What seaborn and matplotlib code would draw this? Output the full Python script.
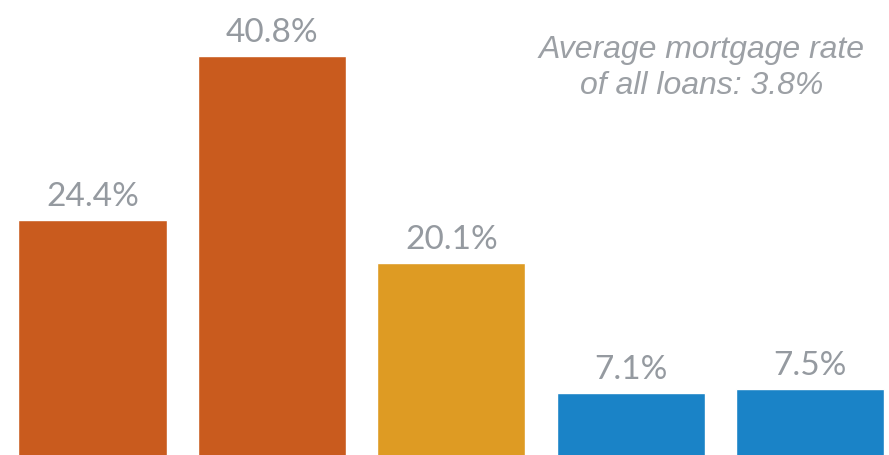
import matplotlib
matplotlib.use("Agg")
import matplotlib.pyplot as plt
import pandas as pd
import seaborn as sns

# values
groups = ["g1", "g2", "g3", "g4", "g5"]
shares = [24.4, 40.8, 20.1, 7.1, 7.5]
barColors = ["#C95B1E", "#C95B1E", "#DE9B23", "#1A83C7", "#1A83C7"]
note = "Average mortgage rate\nof all loans: 3.8%"

df = pd.DataFrame({"group": groups, "share": shares})

sns.set_theme(style="white")
fig = plt.figure(figsize=(8.89, 4.55), dpi=100)
ax = fig.add_axes([0, 0, 1, 1])

sns.barplot(data=df, x="group", y="share", hue="group", palette=barColors,
            legend=False, width=0.826, saturation=1, ax=ax)

for p, v in zip(ax.patches, shares):
    ax.text(p.get_x() + p.get_width() / 2, v + 1.4, f"{v:.1f}%",
            ha="center", va="baseline", fontsize=24, color="#959AA0",
            family=["Lato", "DejaVu Sans"])

ax.text(3.395, 39.6, note, ha="center", va="center", fontsize=23,
        style="italic", color="#9CA0A5", linespacing=1.28,
        family=["Liberation Sans", "DejaVu Sans"])

ax.set_xlim(-0.516, 4.44)
ax.set_ylim(0.9, 46.4)
ax.axis("off")

fig.savefig("out.png", dpi=100)
